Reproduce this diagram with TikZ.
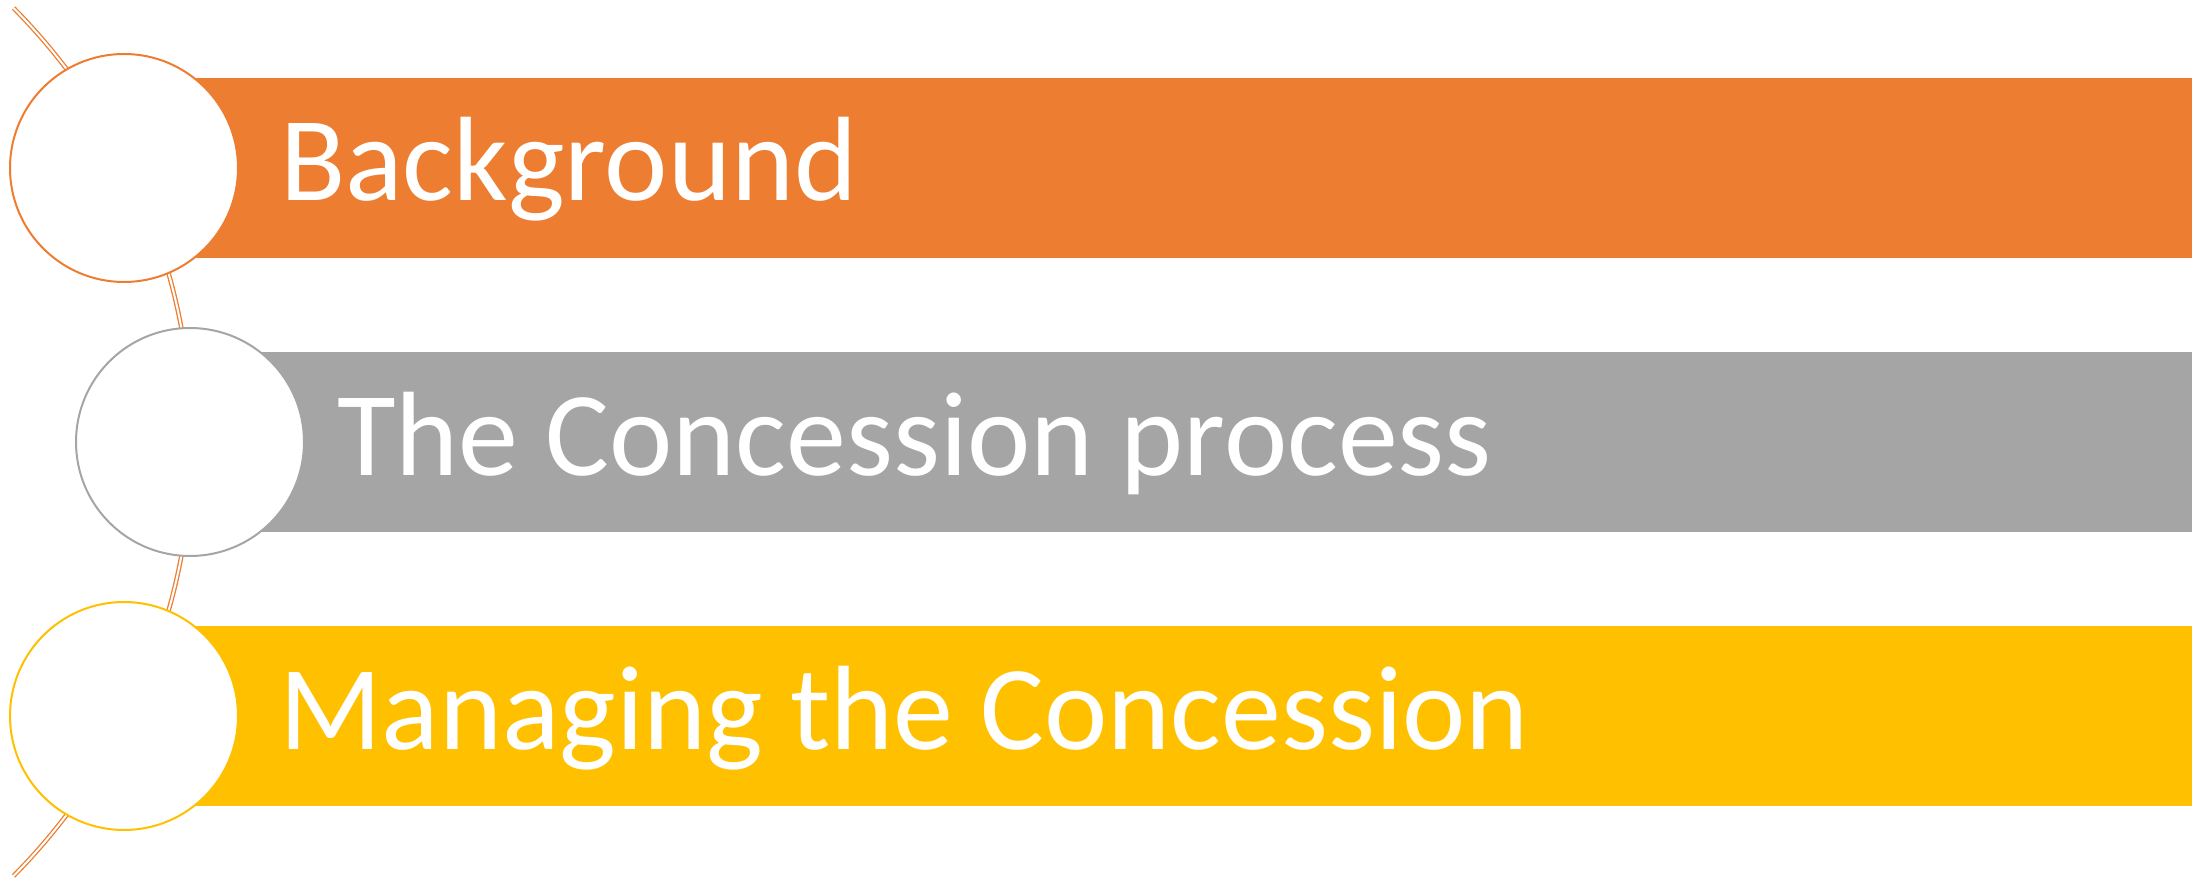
\documentclass[tikz,border=0pt]{standalone}
\usepackage{fontspec}
\setmainfont{Carlito}
\usetikzlibrary{calc}
\definecolor{accOrange}{HTML}{ED7D31}
\definecolor{accGray}{HTML}{A5A5A5}
\definecolor{accGold}{HTML}{FFC000}
\begin{document}
\begin{tikzpicture}[x=1pt,y=1pt,
  dot/.style={circle, fill=white, draw=#1, line width=2pt, minimum size=228pt, inner sep=0pt},
  label/.style={anchor=base west, inner sep=0pt, text=white, font=\fontsize{120}{134}\selectfont},
  spine/.style={draw=accOrange, line width=1.3pt, double=white, double distance=2pt}]
\useasboundingbox (0,0) rectangle (2203,878);
% bars
\fill[accOrange] (124,620) rectangle (2192,800);
\fill[accGray] (190,346) rectangle (2192,526);
\fill[accGold] (124,72) rectangle (2192,252);
% spine arc
\coordinate (arcc) at (-425,436);
\draw[spine] ($(arcc)+(-44.7:617)$) arc[start angle=-44.7, end angle=44.7, radius=617];
% circles
\node[dot=accOrange] (c1) at (124,710) {};
\node[dot=accGray] (c2) at (190,436) {};
\node[dot=accGold] (c3) at (124,162) {};
% labels
\node[label] (t1) at (280,677) {Background};
\node[label] (t2) at (337,402) {The Concession process};
\node[label] (t3) at (279,128) {Managing the Concession};
\end{tikzpicture}
\end{document}
